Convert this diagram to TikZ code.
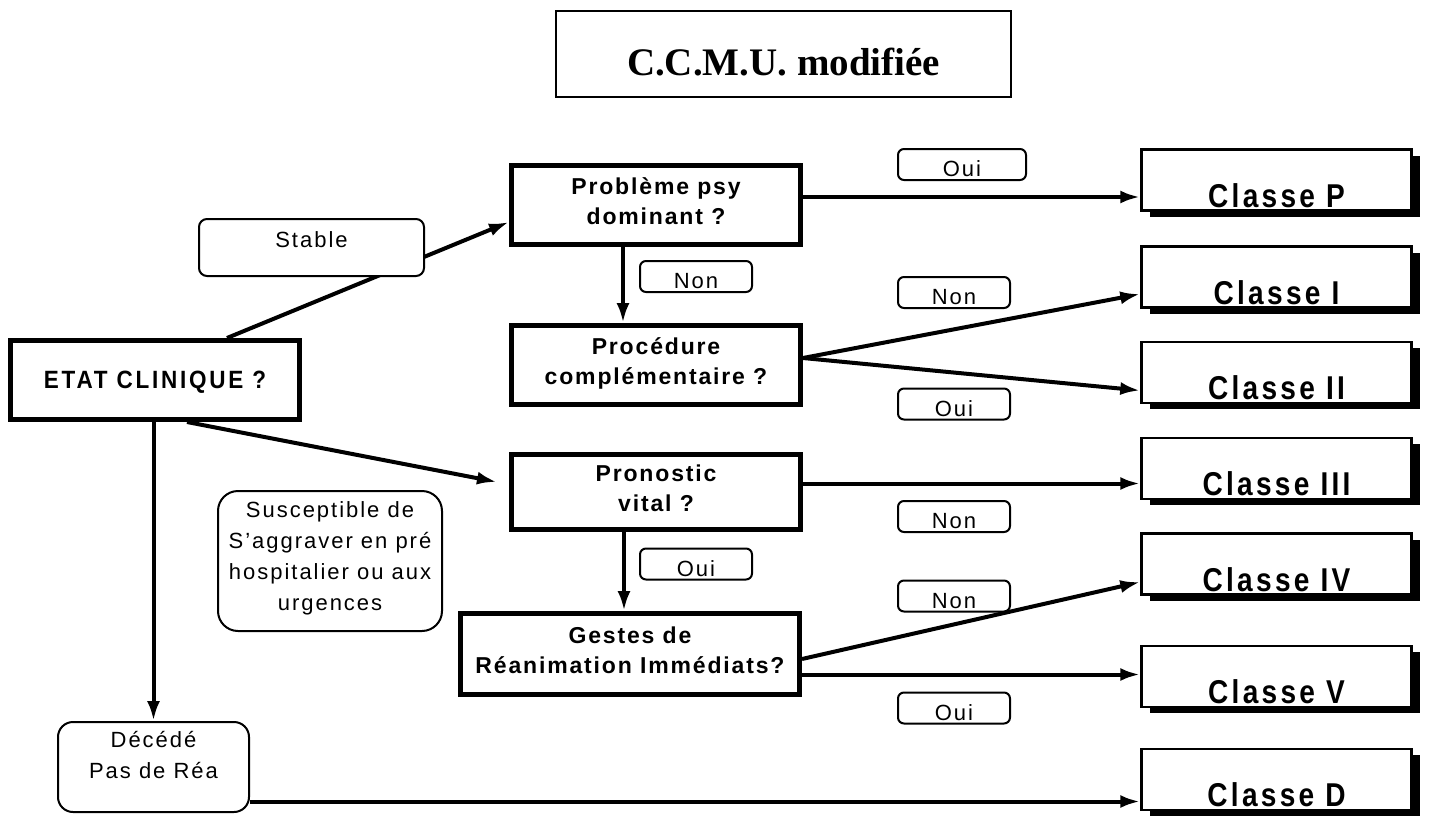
\documentclass[tikz,border=0pt]{standalone}
\usepackage{fontspec}
\setmainfont{Liberation Sans}
\newfontfamily\clsfam[FakeStretch=0.85,LetterSpace=10]{Liberation Sans}
\newfontfamily\decfam[LetterSpace=8]{Liberation Sans}
\newfontfamily\etatfam[FakeStretch=0.9,LetterSpace=11]{Liberation Sans}
\newfontfamily\labfam[LetterSpace=9]{Liberation Sans}
\newfontfamily\ttlfam{Liberation Serif}
\usetikzlibrary{arrows.meta,shadows}
\begin{document}
\begin{tikzpicture}[x=1pt,y=-1pt,
  conn/.style={line width=4pt,-{Latex[length=20pt,width=13pt]}},
  titlebox/.style={draw,line width=2.5pt,fill=white,inner sep=0pt,
    minimum width=455pt,minimum height=86pt,
    font=\ttlfam\bfseries\fontsize{39}{44}\selectfont,text height=42pt,text depth=0pt},
  decision/.style={draw,line width=5pt,fill=white,align=center,inner sep=0pt,
    font=\decfam\bfseries\fontsize{23}{30}\selectfont,text depth=8pt},
  classe/.style={draw,line width=2.5pt,fill=white,inner sep=0pt,
    minimum width=270pt,minimum height=61pt,
    font=\clsfam\bfseries\fontsize{33}{36}\selectfont,text height=54pt,text depth=0pt,
    drop shadow={shadow xshift=8pt,shadow yshift=-6pt,fill=black,opacity=1}},
  lab/.style={draw,line width=2pt,fill=white,rounded corners=6pt,inner sep=0pt,align=center,
    font=\labfam\fontsize{22}{30.7}\selectfont},
  yn/.style={lab,minimum width=112pt,minimum height=31pt,text height=24pt,text depth=0pt}
]
\useasboundingbox (0,0) rectangle (1430,816);

% title
\node[titlebox] (title) at (783.5,54) {C.C.M.U. modifiée};

% decision boxes
\node[decision,minimum width=289pt,minimum height=79pt] (etat) at (155,380)
  [font=\etatfam\bfseries\fontsize{25}{30}\selectfont,text depth=0pt] {ETAT CLINIQUE ?};
\node[decision,minimum width=289pt,minimum height=79pt] (psy) at (656,205) {Problème psy\\dominant ?};
\node[decision,minimum width=289pt,minimum height=79pt] (proc) at (656,365) {Procédure\\complémentaire ?};
\node[decision,minimum width=289pt,minimum height=75pt] (pron) at (656,492) {Pronostic\\vital ?};
\node[decision,minimum width=339pt,minimum height=81pt] (gestes) at (630,654) {Gestes de\\Réanimation Immédiats?};

% classes
\node[classe] (clsP) at (1276.5,180) {Classe P};
\node[classe] (clsI) at (1276.5,277) {Classe I};
\node[classe] (clsII) at (1276.5,372.5) {Classe II};
\node[classe] (clsIII) at (1276.5,468.5) {Classe III};
\node[classe] (clsIV) at (1276.5,564) {Classe IV};
\node[classe] (clsV) at (1276.5,676.5) {Classe V};
\node[classe] (clsD) at (1276.5,779.5) {Classe D};

% other boxes
\node[lab,rounded corners=15pt,minimum width=191pt,minimum height=90pt,text depth=24pt] (deces) at (153.5,767) {Décédé\\Pas de Réa};
\node[lab,rounded corners=20pt,minimum width=224pt,minimum height=140pt,text depth=10pt] (susc) at (330,561)
  {Susceptible de\\S’aggraver en pré\\hospitalier ou aux\\urgences};

% yes / no labels
\node[yn,minimum width=128pt] (ouiP) at (962,164.5) {Oui};
\node[yn] (nonPsy) at (696,276.5) {Non};
\node[yn] (nonI) at (954,292.5) {Non};
\node[yn] (ouiII) at (954,404) {Oui};
\node[yn] (nonIII) at (954,516.5) {Non};
\node[yn] (ouiPron) at (696,564) {Oui};
\node[yn] (nonIV) at (954,596) {Non};
\node[yn] (ouiV) at (954,708) {Oui};

% entry points
\coordinate (inP) at ([yshift=-17pt]clsP.west);
\coordinate (inI) at ([yshift=-17pt]clsI.west);
\coordinate (inII) at ([yshift=-18pt]clsII.west);
\coordinate (inIII) at ([yshift=-15pt]clsIII.west);
\coordinate (inIV) at ([yshift=-18pt]clsIV.west);
\coordinate (inV) at ([yshift=2pt]clsV.west);
\coordinate (inD) at ([yshift=-22pt]clsD.west);
\coordinate (procout) at ([yshift=7pt]proc.east);
\coordinate (gestout) at ([yshift=-5pt]gestes.east);
\coordinate (pronin) at ([xshift=-12pt,yshift=10pt]pron.west);

% connectors
\draw[conn] ([xshift=72pt]etat.north) -- ([yshift=-17pt]psy.west);
\draw[conn] ([xshift=32pt]etat.south) -- (pronin);
\draw[conn] (etat.south -| deces.north) -- (deces.north);
\draw[conn] (deces.east |- inD) -- (inD);
\draw[conn] (psy.east |- inP) -- (inP);
\draw[conn] ([xshift=-33pt]psy.south) -- ([xshift=-33pt]proc.north);
\draw[conn] (procout) -- (inI);
\draw[conn] (procout) -- (inII);
\draw[conn] (pron.east |- inIII) -- (inIII);
\draw[conn] ([xshift=-32pt]pron.south) -- ([xshift=-6pt]gestes.north);
\draw[conn] (gestout) -- (inIV);
\draw[conn] (gestes.east |- inV) -- (inV);

% Stable label covers its connector
\node[lab,rounded corners=8pt,minimum width=225pt,minimum height=57pt,text height=16pt,text depth=16pt] (stable) at (311.5,247.5) {Stable};
\end{tikzpicture}
\end{document}
